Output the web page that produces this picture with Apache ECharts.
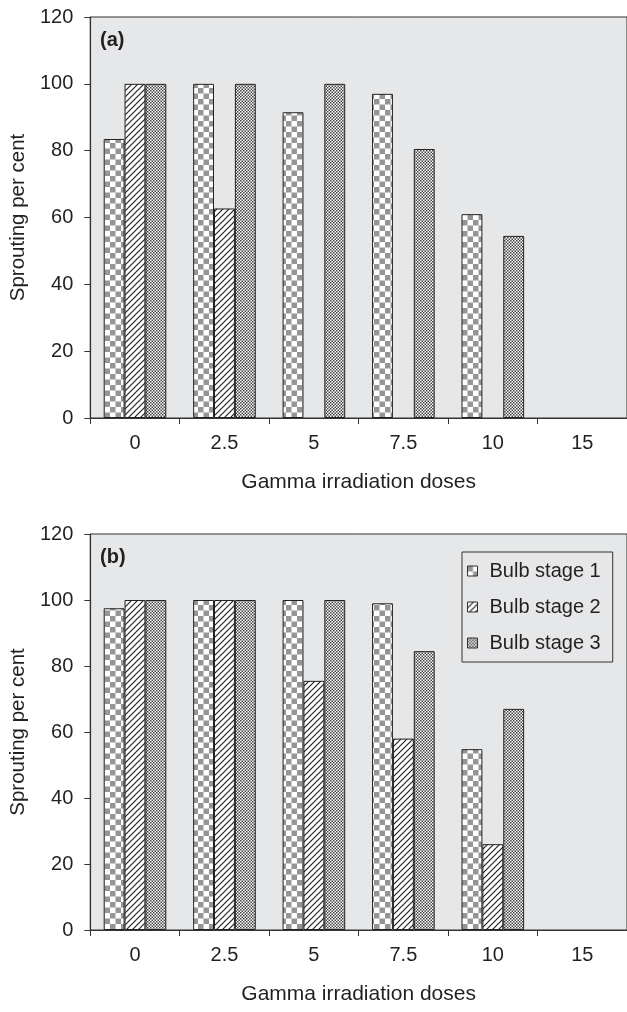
<!DOCTYPE html>
<html>
<head>
<meta charset="utf-8">
<script src="https://cdn.jsdelivr.net/npm/echarts@6/dist/echarts.min.js"></script>
<style>
html,body{margin:0;padding:0;background:#fff;}
#c{width:627px;height:1012px;}
</style>
</head>
<body>
<div id="c"></div>
<script>
const categories = ['0', '2.5', '5', '7.5', '10', '15'];
const stageNames = ['Bulb stage 1', 'Bulb stage 2', 'Bulb stage 3'];
// Panel (a)
const a_stage1 = [83.5, 100, 91.5, 97, 61, 0];
const a_stage2 = [100, 62.7, 0, 0, 0, 0];
const a_stage3 = [100, 100, 100, 80.5, 54.5, 0];
// Panel (b)
const b_stage1 = [97.5, 100, 100, 99, 54.8, 0];
const b_stage2 = [100, 100, 75.5, 58, 26, 0];
const b_stage3 = [100, 100, 100, 84.5, 67, 0];

const dpr = window.devicePixelRatio || 1;
function mk(w, h, draw) {
  const c = document.createElement('canvas');
  c.width = Math.round(w * dpr); c.height = Math.round(h * dpr);
  const g = c.getContext('2d');
  g.scale(dpr, dpr);
  draw(g);
  return { image: c, repeat: 'repeat' };
}
const pat1 = mk(11, 11, g => {
  g.fillStyle = '#fff'; g.fillRect(0, 0, 11, 11);
  g.fillStyle = '#959595'; g.fillRect(0, 0, 5.5, 5.5); g.fillRect(5.5, 5.5, 5.5, 5.5);
});
const pat2 = mk(6, 6, g => {
  g.fillStyle = '#fff'; g.fillRect(0, 0, 6, 6);
  g.strokeStyle = '#222'; g.lineWidth = 1.2;
  g.beginPath();
  g.moveTo(-1, 7); g.lineTo(7, -1);
  g.moveTo(-1, 1); g.lineTo(1, -1);
  g.moveTo(5, 7); g.lineTo(7, 5);
  g.stroke();
});
const pat3 = mk(3, 3, g => {
  g.fillStyle = '#fff'; g.fillRect(0, 0, 3, 3);
  g.fillStyle = '#444';
  g.fillRect(0, 0, 1.5, 1.5); g.fillRect(1.5, 1.5, 1.5, 1.5);
});
const pats = [pat1, pat2, pat3];

const font = 'Liberation Sans';
const txt = '#231f20';

function xAx(gi) {
  return {
    type: 'category', gridIndex: gi, data: categories,
    name: 'Gamma irradiation doses', nameLocation: 'middle', nameGap: 54,
    nameTextStyle: { fontFamily: font, fontSize: 21, color: txt },
    axisLine: { lineStyle: { color: '#333', width: 1.2 } },
    axisTick: { show: true, length: 6, lineStyle: { color: '#333' } },
    axisLabel: { fontFamily: font, fontSize: 20, color: txt, margin: 15 }
  };
}
function yAx(gi) {
  return {
    type: 'value', gridIndex: gi, min: 0, max: 120, interval: 20,
    name: 'Sprouting per cent', nameLocation: 'middle', nameGap: 61,
    nameTextStyle: { fontFamily: font, fontSize: 20.5, color: txt },
    axisLine: { show: true, lineStyle: { color: '#333', width: 1.2 } },
    axisTick: { show: true, length: 6, lineStyle: { color: '#333' } },
    axisLabel: { fontFamily: font, fontSize: 20, color: txt, margin: 17 },
    splitLine: { show: false }
  };
}
function ser(name, data, gi, k) {
  return {
    name: name, type: 'bar', xAxisIndex: gi, yAxisIndex: gi,
    data: data.map(v => (v === 0 ? '-' : v)),
    barGap: '0%', barCategoryGap: '30%',
    itemStyle: { color: pats[k], borderColor: '#222', borderWidth: 1 },
    emphasis: { disabled: true }
  };
}

const chart = echarts.init(document.getElementById('c'));
chart.setOption({
  animation: false,
  backgroundColor: '#fff',
  grid: [
    { left: 88, top: 17, width: 544, height: 401, show: true, backgroundColor: '#e6e7e8', borderColor: '#333', borderWidth: 1 },
    { left: 88, top: 534, width: 544, height: 396, show: true, backgroundColor: '#e6e7e8', borderColor: '#333', borderWidth: 1 }
  ],
  title: [
    { text: '(a)', left: 95, top: 25, textStyle: { fontFamily: font, fontSize: 20, fontWeight: 'bold', color: txt } },
    { text: '(b)', left: 95, top: 542, textStyle: { fontFamily: font, fontSize: 20, fontWeight: 'bold', color: txt } }
  ],
  legend: {
    data: stageNames, orient: 'vertical', left: 462, top: 552,
    itemWidth: 10, itemHeight: 10, itemGap: 16,
    padding: [9, 12, 9, 5],
    borderColor: '#333', borderWidth: 1, backgroundColor: '#e6e7e8',
    icon: 'rect',
    textStyle: { fontFamily: font, fontSize: 20, color: txt, padding: [0, 0, 0, 7] },
    itemStyle: { borderColor: '#333', borderWidth: 1 }
  },
  xAxis: [xAx(0), xAx(1)],
  yAxis: [yAx(0), yAx(1)],
  series: [
    ser(stageNames[0], a_stage1, 0, 0),
    ser(stageNames[1], a_stage2, 0, 1),
    ser(stageNames[2], a_stage3, 0, 2),
    ser(stageNames[0], b_stage1, 1, 0),
    ser(stageNames[1], b_stage2, 1, 1),
    ser(stageNames[2], b_stage3, 1, 2)
  ]
});
</script>
</body>
</html>
